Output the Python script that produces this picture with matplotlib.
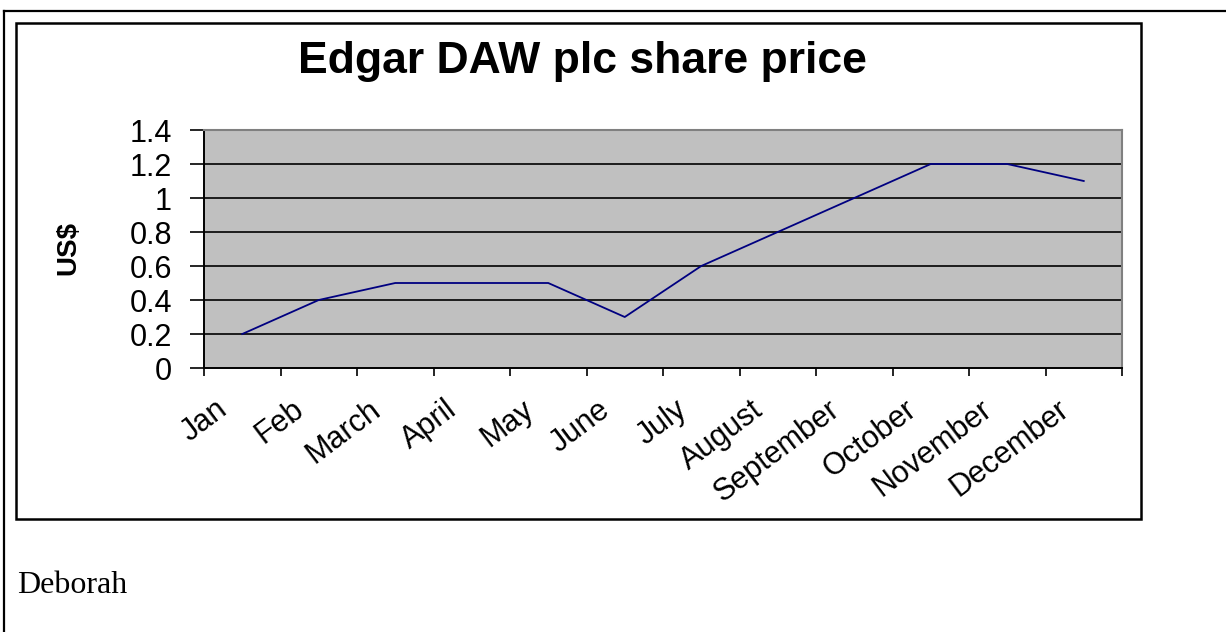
import matplotlib
matplotlib.use("Agg")
import matplotlib.pyplot as plt
import matplotlib.transforms as mtransforms
from matplotlib.patches import Rectangle
from matplotlib.lines import Line2D

# ============================================================
# DADOS
# ============================================================

MONTHS = ["Jan", "Feb", "March", "April", "May", "June", "July",
          "August", "September", "October", "November", "December"]

SHARE_PRICE = [0.2, 0.4, 0.5, 0.5, 0.5, 0.3, 0.6, 0.8, 1.0, 1.2, 1.2, 1.1]

Y_TICKS = [0, 0.2, 0.4, 0.6, 0.8, 1, 1.2, 1.4]
Y_TICK_LABELS = ["0", "0.2", "0.4", "0.6", "0.8", "1", "1.2", "1.4"]

TITLE = "Edgar DAW plc share price"
Y_LABEL = "US$"
FOOTER = "Deborah"

# ============================================================
# CONFIGURAÇÃO
# ============================================================

W, H = 1226, 632
DPI = 100
SANS = "Liberation Sans"
SERIF = "Liberation Serif"

PLOT_BG = "#C0C0C0"
LINE_COLOR = "#000080"


def px_x(x):
    return x / W


def px_y(y):
    return 1 - y / H


def main():
    fig = plt.figure(figsize=(W / DPI, H / DPI), dpi=DPI)

    # moldura externa (só esquerda e topo visíveis)
    fig.add_artist(Line2D([px_x(4), px_x(4)], [0, px_y(11)],
                          transform=fig.transFigure, color="black", lw=1.6))
    fig.add_artist(Line2D([px_x(4), 1], [px_y(11), px_y(11)],
                          transform=fig.transFigure, color="black", lw=1.6))

    # caixa do gráfico
    fig.add_artist(Rectangle((px_x(16), px_y(519)), px_x(1141) - px_x(16),
                             px_y(23) - px_y(519), transform=fig.transFigure,
                             fill=False, edgecolor="black", lw=1.8))

    left, right, top, bottom = 204, 1122, 130, 368
    ax = fig.add_axes([px_x(left), px_y(bottom),
                       px_x(right) - px_x(left), px_y(top) - px_y(bottom)])
    ax.set_facecolor(PLOT_BG)

    x = list(range(len(MONTHS)))
    ax.plot(x, SHARE_PRICE, color=LINE_COLOR, linewidth=1.3, zorder=3)

    ax.set_xlim(-0.5, len(MONTHS) - 0.5)
    ax.set_ylim(0, 1.4)

    # grade horizontal
    for v in Y_TICKS[1:-1]:
        ax.axhline(v, color="black", linewidth=1.2, zorder=2)

    # eixos
    for side in ("top", "right"):
        ax.spines[side].set_color("#808080")
        ax.spines[side].set_linewidth(1.5)
    for side in ("left", "bottom"):
        ax.spines[side].set_color("black")
        ax.spines[side].set_linewidth(1.4)

    ax.set_yticks(Y_TICKS)
    ax.set_yticklabels(Y_TICK_LABELS, fontsize=22, family=SANS)
    ax.tick_params(axis="y", direction="out", length=10, width=1.2, pad=13)

    # ticks nas fronteiras das categorias, rótulos no centro
    ax.set_xticks([i - 0.5 for i in range(len(MONTHS) + 1)], minor=True)
    ax.tick_params(axis="x", which="minor", direction="out", length=6, width=1.2)
    ax.set_xticks(x)
    ax.set_xticklabels(MONTHS, fontsize=22, family=SANS, rotation=37,
                       ha="right", va="top", rotation_mode="anchor")
    ax.tick_params(axis="x", which="major", length=0, pad=19)
    offset = mtransforms.ScaledTranslation(-27 / DPI, 0, fig.dpi_scale_trans)
    for lbl in ax.get_xticklabels():
        lbl.set_transform(lbl.get_transform() + offset)

    # títulos
    fig.text(px_x(582), px_y(62), TITLE, ha="center", va="center",
             fontsize=32, fontweight="bold", family=SANS)
    fig.text(px_x(68), px_y(248), Y_LABEL, ha="center", va="center",
             rotation=90, fontsize=20, fontweight="bold", family=SANS)

    fig.text(px_x(17), px_y(593), FOOTER, ha="left", va="baseline",
             fontsize=23, family=SERIF)

    fig.savefig("out.png", dpi=DPI)
    plt.close(fig)


if __name__ == "__main__":
    main()
